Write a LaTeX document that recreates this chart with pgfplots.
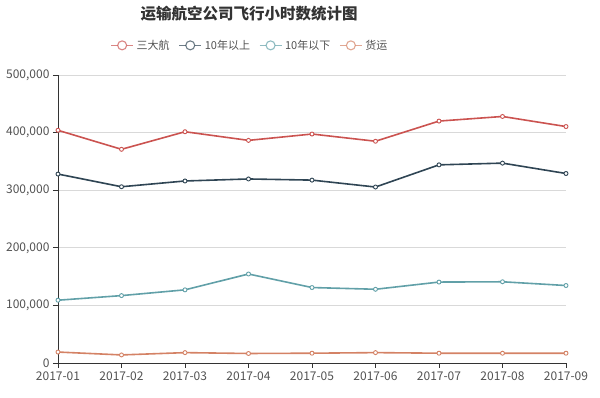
\documentclass[border=0pt]{standalone}
\usepackage{pgfplots}
\pgfplotsset{compat=1.18}
\usepackage{fontspec}
\setmainfont{Noto Sans CJK SC}
\definecolor{cA}{HTML}{C23531}
\definecolor{cB}{HTML}{2F4554}
\definecolor{cC}{HTML}{61A0A8}
\definecolor{cD}{HTML}{D48265}
\definecolor{txt}{HTML}{333333}
\begin{document}
\begin{tikzpicture}[x=1pt,y=1pt]
\path[use as bounding box] (0,0) rectangle (600,398);
\node[font=\fontsize{15.5}{18}\selectfont\bfseries, text=txt] at (249,384) {运输航空公司飞行小时数统计图};
\begin{axis}[
  at={(58pt,35pt)}, anchor=south west, scale only axis,
  width=508pt, height=288pt,
  xmin=0, xmax=8, ymin=0, ymax=500000,
  xtick={0,...,8},
  xticklabels={2017-01,2017-02,2017-03,2017-04,2017-05,2017-06,2017-07,2017-08,2017-09},
  ytick={0,100000,200000,300000,400000,500000},
  scaled y ticks=false,
  /pgf/number format/assume math mode=true,
  yticklabel style={/pgf/number format/.cd, fixed, 1000 sep={,}},
  ticklabel style={font=\fontsize{12}{14}\selectfont, text=txt!85},
  ymajorgrids, grid style={black!15, line width=0.6pt},
  axis x line*=bottom, axis y line*=left,
  axis line style={txt, line width=0.8pt},
  tick align=outside, major tick length=5pt,
  tick style={txt, line width=0.8pt},
  clip=false,
  legend columns=4,
  legend style={draw=none, fill=none, at={(0.378,1)}, anchor=south, yshift=20pt,
    font=\fontsize{11}{13}\selectfont, text=txt!85,
    /tikz/every odd column/.append style={column sep=1pt},
    /tikz/every even column/.append style={column sep=7pt}},
  legend image code/.code={
    \draw[#1, line width=1.1pt, mark=none, opacity=0.7] (0pt,0pt) -- (22pt,0pt);
    \draw[#1, line width=1.1pt, fill=white, mark=none, draw opacity=0.7] (11pt,0pt) circle (4.5pt);
  },
  every axis plot/.append style={line width=1.6pt, mark=*, mark size=2pt},
]
\addplot[cA!85, mark options={fill=white, draw=cA!85, line width=0.9pt}] coordinates {
(0,404000) (1,371000) (2,401500) (3,386500) (4,397500) (5,385000) (6,420000) (7,428000) (8,410500)};
\addlegendentry{三大航}
\addplot[cB, mark options={fill=white, draw=cB, line width=0.9pt}] coordinates {
(0,328000) (1,306000) (2,316000) (3,319500) (4,317500) (5,305500) (6,344000) (7,347000) (8,329000)};
\addlegendentry{10年以上}
\addplot[cC, mark options={fill=white, draw=cC, line width=0.9pt}] coordinates {
(0,109000) (1,117000) (2,127000) (3,154500) (4,131000) (5,128000) (6,140500) (7,141000) (8,134500)};
\addlegendentry{10年以下}
\addplot[cD, mark options={fill=white, draw=cD, line width=0.9pt}] coordinates {
(0,19000) (1,14000) (2,18000) (3,16500) (4,17000) (5,18000) (6,17000) (7,17000) (8,17000)};
\addlegendentry{货运}
\end{axis}
\end{tikzpicture}
\end{document}
